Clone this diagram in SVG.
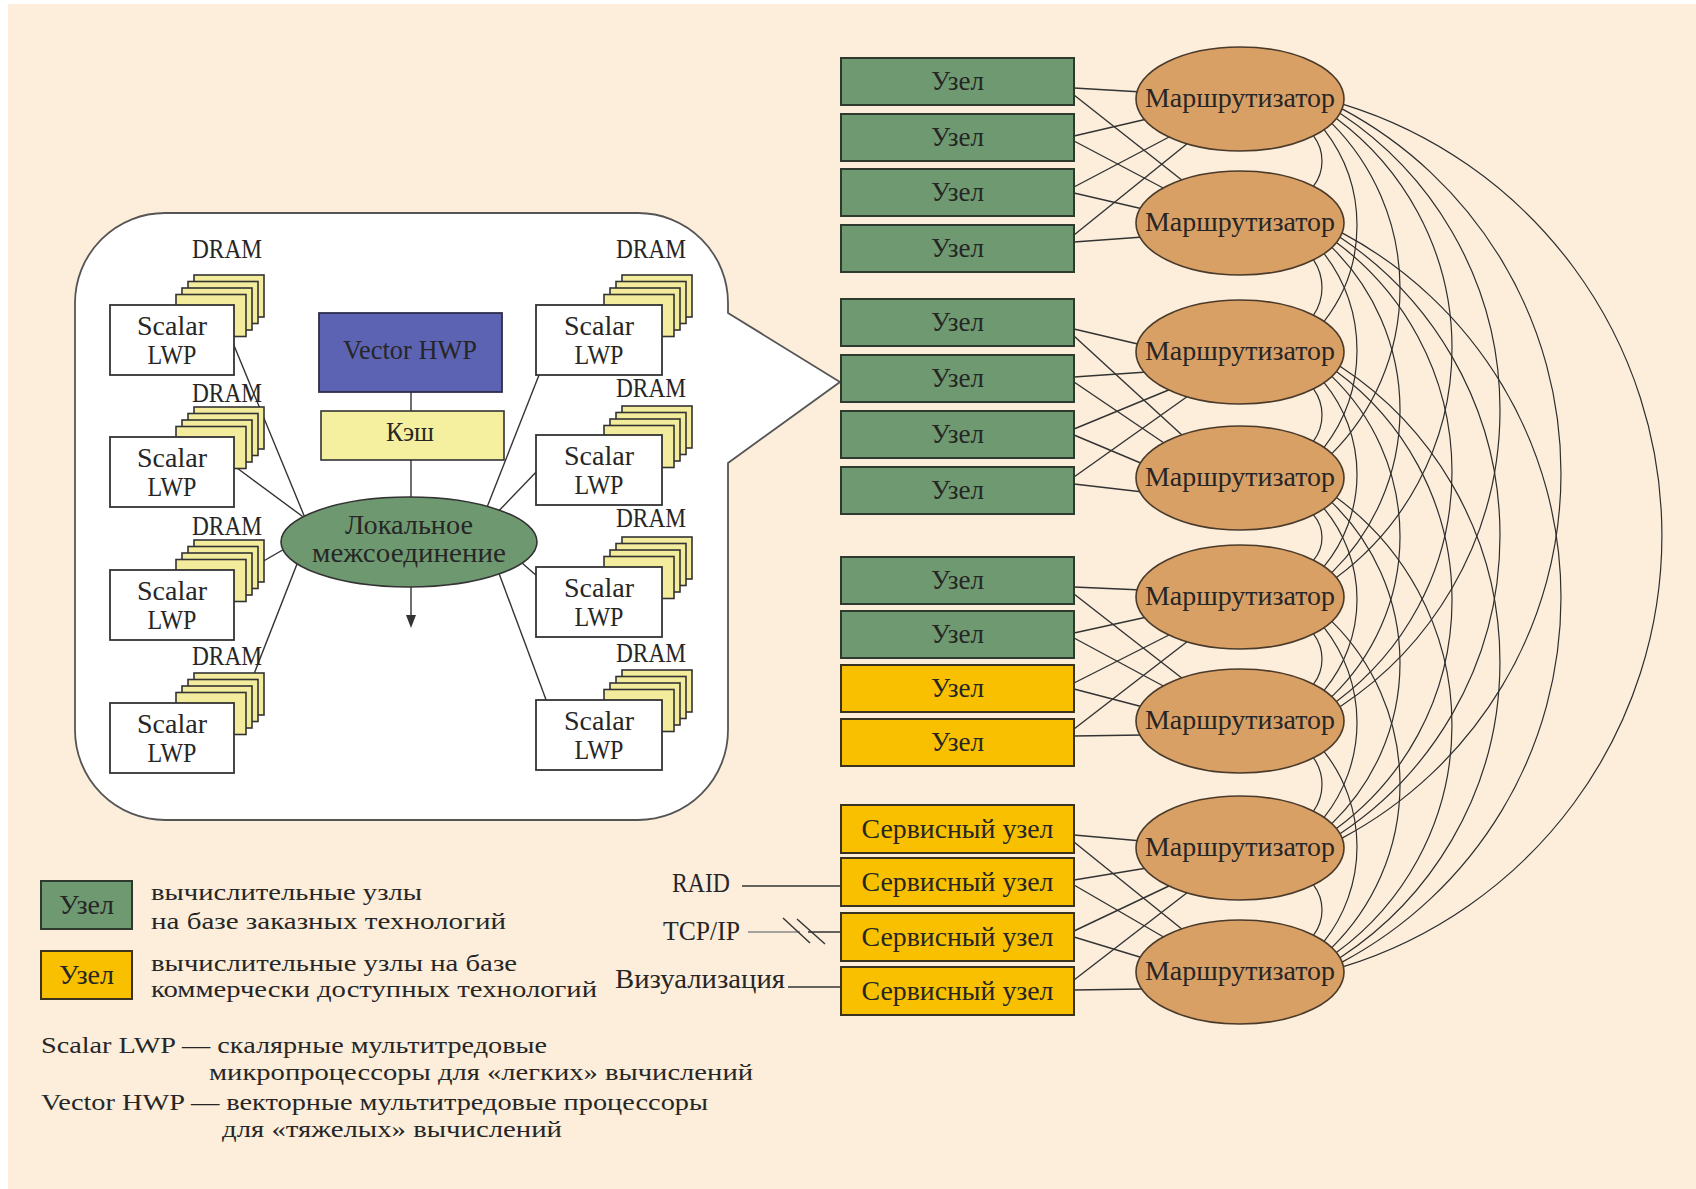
<svg xmlns="http://www.w3.org/2000/svg" xmlns:xlink="http://www.w3.org/1999/xlink" width="1696" height="1189" viewBox="0 0 1696 1189">
<style>
.t{font-family:"Liberation Serif",serif;font-size:27px;fill:#262626}
.lg{font-size:24px}
.c{text-anchor:middle}
.ng{fill:#6F9A71;stroke:#2F3A2E;stroke-width:2}
.ny{fill:#F9C000;stroke:#3A3320;stroke-width:2}
.router{fill:#D9A066;stroke:#4A3A2A;stroke-width:1.6}
.ln{stroke:#333;stroke-width:1.4;fill:none}
.arc{stroke:#2E2E2E;stroke-width:1.2;fill:none}
.card{fill:#F2EC9C;stroke:#333;stroke-width:1.6}
.lwp{fill:#fff;stroke:#333;stroke-width:1.8}
</style>
<defs>
<g id="dramStack">
<rect class="card" x="0" y="0" width="70" height="42"/>
<rect class="card" x="-6" y="6.5" width="70" height="42"/>
<rect class="card" x="-12" y="13" width="70" height="42"/>
<rect class="card" x="-18" y="19.5" width="70" height="42"/>
</g>
</defs>
<rect x="0" y="0" width="1696" height="1189" fill="#FFFFFF"/>
<rect x="8" y="4" width="1688" height="1185" fill="#FCEEDB"/>

<g id="callout">
<path d="M165,213 H638 A90,90 0 0 1 728,303 V313 L840,382 L728,463 V730 A90,90 0 0 1 638,820 H165 A90,90 0 0 1 75,730 V303 A90,90 0 0 1 165,213 Z" fill="#FFFFFF" stroke="#555" stroke-width="1.8"/>
</g>

<g id="connectors">
<line class="ln" x1="233" y1="343" x2="310" y2="530"/>
<line class="ln" x1="233" y1="465" x2="310" y2="522"/>
<line class="ln" x1="220" y1="586" x2="300" y2="540"/>
<line class="ln" x1="245" y1="697" x2="306" y2="541"/>
<line class="ln" x1="541" y1="370" x2="482" y2="520"/>
<line class="ln" x1="540" y1="468" x2="490" y2="520"/>
<line class="ln" x1="545" y1="583" x2="500" y2="544"/>
<line class="ln" x1="548" y1="705" x2="494" y2="560"/>
<line class="ln" x1="411" y1="391" x2="411" y2="411"/>
<line class="ln" x1="411" y1="460" x2="411" y2="498"/>
<line class="ln" x1="411" y1="587" x2="411" y2="616"/>
<path d="M406,615 L416,615 L411,628 Z" fill="#333"/>
<line class="ln" x1="742" y1="886" x2="842" y2="886"/>
<line x1="748" y1="932" x2="800" y2="932" stroke="#888" stroke-width="1.4"/>
<line class="ln" x1="808" y1="932" x2="842" y2="932"/>
<line class="ln" x1="783" y1="918" x2="810" y2="943"/>
<line class="ln" x1="797" y1="919" x2="825" y2="944"/>
<line class="ln" x1="788" y1="987" x2="842" y2="987"/>
<line class="ln" x1="1074" y1="88" x2="1142" y2="92"/>
<line class="ln" x1="1074" y1="95" x2="1183" y2="181"/>
<line class="ln" x1="1074" y1="136" x2="1147" y2="119"/>
<line class="ln" x1="1074" y1="141" x2="1167" y2="190"/>
<line class="ln" x1="1074" y1="187" x2="1171" y2="136"/>
<line class="ln" x1="1074" y1="193" x2="1143" y2="209"/>
<line class="ln" x1="1074" y1="235" x2="1188" y2="143"/>
<line class="ln" x1="1074" y1="242" x2="1143" y2="237"/>
<line class="ln" x1="1074" y1="329" x2="1142" y2="345"/>
<line class="ln" x1="1074" y1="336" x2="1183" y2="436"/>
<line class="ln" x1="1074" y1="377" x2="1147" y2="372"/>
<line class="ln" x1="1074" y1="382" x2="1167" y2="445"/>
<line class="ln" x1="1074" y1="429" x2="1171" y2="389"/>
<line class="ln" x1="1074" y1="435" x2="1143" y2="464"/>
<line class="ln" x1="1074" y1="477" x2="1188" y2="396"/>
<line class="ln" x1="1074" y1="484" x2="1143" y2="492"/>
<line class="ln" x1="1074" y1="587" x2="1142" y2="590"/>
<line class="ln" x1="1074" y1="594" x2="1183" y2="679"/>
<line class="ln" x1="1074" y1="633" x2="1147" y2="617"/>
<line class="ln" x1="1074" y1="638" x2="1167" y2="688"/>
<line class="ln" x1="1074" y1="683" x2="1171" y2="634"/>
<line class="ln" x1="1074" y1="689" x2="1143" y2="707"/>
<line class="ln" x1="1074" y1="729" x2="1188" y2="641"/>
<line class="ln" x1="1074" y1="736" x2="1143" y2="735"/>
<line class="ln" x1="1074" y1="835" x2="1142" y2="841"/>
<line class="ln" x1="1074" y1="842" x2="1183" y2="930"/>
<line class="ln" x1="1074" y1="880" x2="1147" y2="868"/>
<line class="ln" x1="1074" y1="885" x2="1167" y2="939"/>
<line class="ln" x1="1074" y1="931" x2="1171" y2="885"/>
<line class="ln" x1="1074" y1="937" x2="1143" y2="958"/>
<line class="ln" x1="1074" y1="980" x2="1188" y2="892"/>
<line class="ln" x1="1074" y1="990" x2="1143" y2="989"/>
<path class="arc" d="M1313.5,135.8 A41.6,41.6 0 0 1 1313.5,186.2"/>
<path class="arc" d="M1313.5,259.8 A49.4,49.4 0 0 1 1313.5,315.2"/>
<path class="arc" d="M1313.5,388.8 A44.6,44.6 0 0 1 1313.5,441.2"/>
<path class="arc" d="M1313.5,514.8 A34.6,34.6 0 0 1 1313.5,560.2"/>
<path class="arc" d="M1313.5,633.8 A41.6,41.6 0 0 1 1313.5,684.2"/>
<path class="arc" d="M1313.5,757.8 A46.2,46.2 0 0 1 1313.5,811.2"/>
<path class="arc" d="M1313.5,884.8 A41.6,41.6 0 0 1 1313.5,935.2"/>
<path class="arc" d="M1324.1,129.6 A156.2,156.2 0 0 1 1324.1,321.4"/>
<path class="arc" d="M1324.1,253.6 A159.2,159.2 0 0 1 1324.1,447.4"/>
<path class="arc" d="M1324.1,382.6 A144.8,144.8 0 0 1 1324.1,566.4"/>
<path class="arc" d="M1324.1,508.6 A142,142 0 0 1 1324.1,690.4"/>
<path class="arc" d="M1324.1,627.6 A153.3,153.3 0 0 1 1324.1,817.4"/>
<path class="arc" d="M1324.1,751.6 A153.3,153.3 0 0 1 1324.1,941.4"/>
<path class="arc" d="M1331.8,123.4 A233.9,233.9 0 0 1 1331.8,453.6"/>
<path class="arc" d="M1331.8,247.4 A227.9,227.9 0 0 1 1331.8,572.6"/>
<path class="arc" d="M1331.8,376.4 A222,222 0 0 1 1331.8,696.6"/>
<path class="arc" d="M1331.8,502.4 A223.2,223.2 0 0 1 1331.8,823.6"/>
<path class="arc" d="M1331.8,621.4 A229.1,229.1 0 0 1 1331.8,947.6"/>
<path class="arc" d="M1336.4,118.5 A285.6,285.6 0 0 1 1336.4,577.5"/>
<path class="arc" d="M1336.4,242.5 A285.6,285.6 0 0 1 1336.4,701.5"/>
<path class="arc" d="M1336.4,371.5 A283.6,283.6 0 0 1 1336.4,828.5"/>
<path class="arc" d="M1336.4,497.5 A281.7,281.7 0 0 1 1336.4,952.5"/>
<path class="arc" d="M1340,113.3 A355.1,355.1 0 0 1 1340,706.7"/>
<path class="arc" d="M1340,237.3 A357.9,357.9 0 0 1 1340,833.7"/>
<path class="arc" d="M1340,366.3 A353.3,353.3 0 0 1 1340,957.7"/>
<path class="arc" d="M1342.1,108.9 A413.1,413.1 0 0 1 1342.1,838.1"/>
<path class="arc" d="M1342.1,232.9 A413.1,413.1 0 0 1 1342.1,962.1"/>
<path class="arc" d="M1343.4,104.4 A451,451 0 0 1 1343.4,966.6"/>
</g>

<g id="lwp-l1"><use xlink:href="#dramStack" x="194" y="275"/><rect class="lwp" x="110" y="305" width="124" height="70"/><text class="t c" x="227" y="258" textLength="70" lengthAdjust="spacingAndGlyphs">DRAM</text><text class="t c" x="172" y="335" textLength="70" lengthAdjust="spacingAndGlyphs">Scalar</text><text class="t c" x="172" y="364" textLength="49" lengthAdjust="spacingAndGlyphs">LWP</text></g>
<g id="lwp-l2"><use xlink:href="#dramStack" x="194" y="407"/><rect class="lwp" x="110" y="437" width="124" height="70"/><text class="t c" x="227" y="402" textLength="70" lengthAdjust="spacingAndGlyphs">DRAM</text><text class="t c" x="172" y="467" textLength="70" lengthAdjust="spacingAndGlyphs">Scalar</text><text class="t c" x="172" y="496" textLength="49" lengthAdjust="spacingAndGlyphs">LWP</text></g>
<g id="lwp-l3"><use xlink:href="#dramStack" x="194" y="540"/><rect class="lwp" x="110" y="570" width="124" height="70"/><text class="t c" x="227" y="535" textLength="70" lengthAdjust="spacingAndGlyphs">DRAM</text><text class="t c" x="172" y="600" textLength="70" lengthAdjust="spacingAndGlyphs">Scalar</text><text class="t c" x="172" y="629" textLength="49" lengthAdjust="spacingAndGlyphs">LWP</text></g>
<g id="lwp-l4"><use xlink:href="#dramStack" x="194" y="673"/><rect class="lwp" x="110" y="703" width="124" height="70"/><text class="t c" x="227" y="665" textLength="70" lengthAdjust="spacingAndGlyphs">DRAM</text><text class="t c" x="172" y="733" textLength="70" lengthAdjust="spacingAndGlyphs">Scalar</text><text class="t c" x="172" y="762" textLength="49" lengthAdjust="spacingAndGlyphs">LWP</text></g>
<g id="lwp-r1"><use xlink:href="#dramStack" x="622" y="275"/><rect class="lwp" x="536" y="305" width="126" height="70"/><text class="t c" x="651" y="258" textLength="70" lengthAdjust="spacingAndGlyphs">DRAM</text><text class="t c" x="599" y="335" textLength="70" lengthAdjust="spacingAndGlyphs">Scalar</text><text class="t c" x="599" y="364" textLength="49" lengthAdjust="spacingAndGlyphs">LWP</text></g>
<g id="lwp-r2"><use xlink:href="#dramStack" x="622" y="406"/><rect class="lwp" x="536" y="435" width="126" height="70"/><text class="t c" x="651" y="397" textLength="70" lengthAdjust="spacingAndGlyphs">DRAM</text><text class="t c" x="599" y="465" textLength="70" lengthAdjust="spacingAndGlyphs">Scalar</text><text class="t c" x="599" y="494" textLength="49" lengthAdjust="spacingAndGlyphs">LWP</text></g>
<g id="lwp-r3"><use xlink:href="#dramStack" x="622" y="537"/><rect class="lwp" x="536" y="567" width="126" height="70"/><text class="t c" x="651" y="527" textLength="70" lengthAdjust="spacingAndGlyphs">DRAM</text><text class="t c" x="599" y="597" textLength="70" lengthAdjust="spacingAndGlyphs">Scalar</text><text class="t c" x="599" y="626" textLength="49" lengthAdjust="spacingAndGlyphs">LWP</text></g>
<g id="lwp-r4"><use xlink:href="#dramStack" x="622" y="670"/><rect class="lwp" x="536" y="700" width="126" height="70"/><text class="t c" x="651" y="662" textLength="70" lengthAdjust="spacingAndGlyphs">DRAM</text><text class="t c" x="599" y="730" textLength="70" lengthAdjust="spacingAndGlyphs">Scalar</text><text class="t c" x="599" y="759" textLength="49" lengthAdjust="spacingAndGlyphs">LWP</text></g>
<g id="vector-hwp"><rect x="319" y="313" width="183" height="79" fill="#5C63B3" stroke="#2E2E4A" stroke-width="1.8"/><text class="t c" x="410" y="359" textLength="134" lengthAdjust="spacingAndGlyphs" fill="#1E1E30">Vector HWP</text></g>
<g id="cache"><rect x="321" y="411" width="183" height="49" fill="#F5F0A0" stroke="#333" stroke-width="1.6"/><text class="t c" x="410" y="441" textLength="48" lengthAdjust="spacingAndGlyphs">Кэш</text></g>
<g id="local-interconnect"><ellipse cx="409" cy="542" rx="128" ry="45" fill="#6E9970" stroke="#333" stroke-width="1.6"/><text class="t c" x="409" y="534" textLength="128" lengthAdjust="spacingAndGlyphs">Локальное</text><text class="t c" x="409" y="562" textLength="194" lengthAdjust="spacingAndGlyphs">межсоединение</text></g>

<g id="node-1"><rect class="ng" x="841" y="58" width="233" height="47"/><text class="t c" x="957.5" y="90" textLength="53" lengthAdjust="spacingAndGlyphs">Узел</text></g>
<g id="node-2"><rect class="ng" x="841" y="114" width="233" height="47"/><text class="t c" x="957.5" y="146" textLength="53" lengthAdjust="spacingAndGlyphs">Узел</text></g>
<g id="node-3"><rect class="ng" x="841" y="169" width="233" height="47"/><text class="t c" x="957.5" y="201" textLength="53" lengthAdjust="spacingAndGlyphs">Узел</text></g>
<g id="node-4"><rect class="ng" x="841" y="225" width="233" height="47"/><text class="t c" x="957.5" y="257" textLength="53" lengthAdjust="spacingAndGlyphs">Узел</text></g>
<g id="node-5"><rect class="ng" x="841" y="299" width="233" height="47"/><text class="t c" x="957.5" y="331" textLength="53" lengthAdjust="spacingAndGlyphs">Узел</text></g>
<g id="node-6"><rect class="ng" x="841" y="355" width="233" height="47"/><text class="t c" x="957.5" y="387" textLength="53" lengthAdjust="spacingAndGlyphs">Узел</text></g>
<g id="node-7"><rect class="ng" x="841" y="411" width="233" height="47"/><text class="t c" x="957.5" y="443" textLength="53" lengthAdjust="spacingAndGlyphs">Узел</text></g>
<g id="node-8"><rect class="ng" x="841" y="467" width="233" height="47"/><text class="t c" x="957.5" y="499" textLength="53" lengthAdjust="spacingAndGlyphs">Узел</text></g>
<g id="node-9"><rect class="ng" x="841" y="557" width="233" height="47"/><text class="t c" x="957.5" y="589" textLength="53" lengthAdjust="spacingAndGlyphs">Узел</text></g>
<g id="node-10"><rect class="ng" x="841" y="611" width="233" height="47"/><text class="t c" x="957.5" y="643" textLength="53" lengthAdjust="spacingAndGlyphs">Узел</text></g>
<g id="node-11"><rect class="ny" x="841" y="665" width="233" height="47"/><text class="t c" x="957.5" y="697" textLength="53" lengthAdjust="spacingAndGlyphs">Узел</text></g>
<g id="node-12"><rect class="ny" x="841" y="719" width="233" height="47"/><text class="t c" x="957.5" y="751" textLength="53" lengthAdjust="spacingAndGlyphs">Узел</text></g>
<g id="service-1"><rect class="ny" x="841" y="805" width="233" height="48"/><text class="t c" x="957.5" y="838" textLength="192" lengthAdjust="spacingAndGlyphs">Сервисный узел</text></g>
<g id="service-2"><rect class="ny" x="841" y="858" width="233" height="48"/><text class="t c" x="957.5" y="891" textLength="192" lengthAdjust="spacingAndGlyphs">Сервисный узел</text></g>
<g id="service-3"><rect class="ny" x="841" y="913" width="233" height="48"/><text class="t c" x="957.5" y="946" textLength="192" lengthAdjust="spacingAndGlyphs">Сервисный узел</text></g>
<g id="service-4"><rect class="ny" x="841" y="967" width="233" height="48"/><text class="t c" x="957.5" y="1000" textLength="192" lengthAdjust="spacingAndGlyphs">Сервисный узел</text></g>

<g id="router-1"><ellipse class="router" cx="1240" cy="99" rx="104" ry="52"/><text class="t c" x="1240" y="107" textLength="190" lengthAdjust="spacingAndGlyphs">Маршрутизатор</text></g>
<g id="router-2"><ellipse class="router" cx="1240" cy="223" rx="104" ry="52"/><text class="t c" x="1240" y="231" textLength="190" lengthAdjust="spacingAndGlyphs">Маршрутизатор</text></g>
<g id="router-3"><ellipse class="router" cx="1240" cy="352" rx="104" ry="52"/><text class="t c" x="1240" y="360" textLength="190" lengthAdjust="spacingAndGlyphs">Маршрутизатор</text></g>
<g id="router-4"><ellipse class="router" cx="1240" cy="478" rx="104" ry="52"/><text class="t c" x="1240" y="486" textLength="190" lengthAdjust="spacingAndGlyphs">Маршрутизатор</text></g>
<g id="router-5"><ellipse class="router" cx="1240" cy="597" rx="104" ry="52"/><text class="t c" x="1240" y="605" textLength="190" lengthAdjust="spacingAndGlyphs">Маршрутизатор</text></g>
<g id="router-6"><ellipse class="router" cx="1240" cy="721" rx="104" ry="52"/><text class="t c" x="1240" y="729" textLength="190" lengthAdjust="spacingAndGlyphs">Маршрутизатор</text></g>
<g id="router-7"><ellipse class="router" cx="1240" cy="848" rx="104" ry="52"/><text class="t c" x="1240" y="856" textLength="190" lengthAdjust="spacingAndGlyphs">Маршрутизатор</text></g>
<g id="router-8"><ellipse class="router" cx="1240" cy="972" rx="104" ry="52"/><text class="t c" x="1240" y="980" textLength="190" lengthAdjust="spacingAndGlyphs">Маршрутизатор</text></g>

<g id="raid"><text class="t" x="672" y="892" textLength="58" lengthAdjust="spacingAndGlyphs">RAID</text></g>
<g id="tcpip"><text class="t" x="663" y="940" textLength="77" lengthAdjust="spacingAndGlyphs">TCP/IP</text></g>
<g id="visualization"><text class="t" x="615" y="988" textLength="170" lengthAdjust="spacingAndGlyphs">Визуализация</text></g>

<g id="legend">
<rect class="ng" x="41" y="881" width="91" height="48"/>
<text class="t c" x="86.5" y="914" textLength="55" lengthAdjust="spacingAndGlyphs">Узел</text>
<rect class="ny" x="41" y="951" width="91" height="48"/>
<text class="t c" x="86.5" y="984" textLength="55" lengthAdjust="spacingAndGlyphs">Узел</text>
<text class="t lg" x="151" y="900" textLength="271" lengthAdjust="spacingAndGlyphs">вычислительные узлы</text>
<text class="t lg" x="151" y="929" textLength="355" lengthAdjust="spacingAndGlyphs">на базе заказных технологий</text>
<text class="t lg" x="151" y="971" textLength="366" lengthAdjust="spacingAndGlyphs">вычислительные узлы на базе</text>
<text class="t lg" x="151" y="997" textLength="446" lengthAdjust="spacingAndGlyphs">коммерчески доступных технологий</text>
<text class="t lg" x="41" y="1053" textLength="506" lengthAdjust="spacingAndGlyphs">Scalar LWP — скалярные мультитредовые</text>
<text class="t lg" x="209" y="1080" textLength="544" lengthAdjust="spacingAndGlyphs">микропроцессоры для «легких» вычислений</text>
<text class="t lg" x="41" y="1110" textLength="667" lengthAdjust="spacingAndGlyphs">Vector HWP — векторные мультитредовые процессоры</text>
<text class="t lg" x="222" y="1137" textLength="340" lengthAdjust="spacingAndGlyphs">для «тяжелых» вычислений</text>
</g>
</svg>
